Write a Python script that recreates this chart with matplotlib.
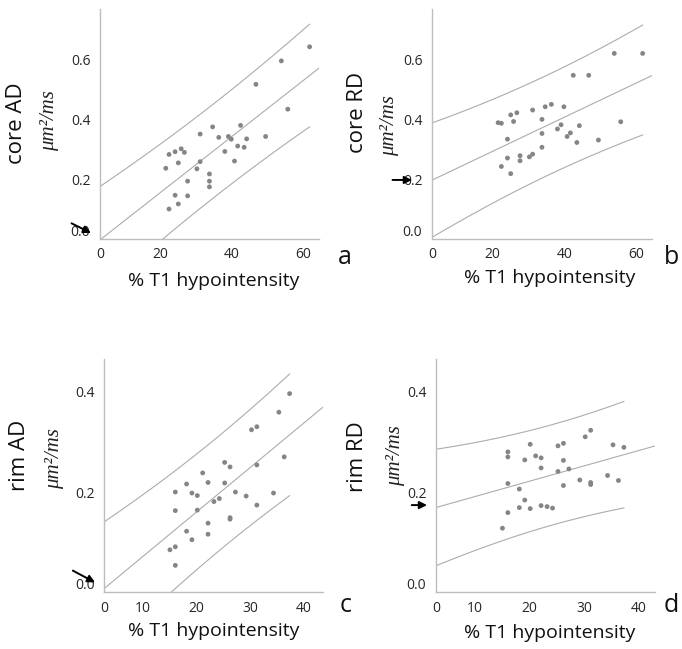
import numpy as np
import matplotlib
matplotlib.use('Agg')
import matplotlib.pyplot as plt
from matplotlib.transforms import ScaledTranslation

plt.rcParams['font.family'] = ['Open Sans', 'DejaVu Sans']

###############################################################################
## Data
###############################################################################
# core lesions: % T1 hypointensity, shared by panels a and b
core_x = [21.6, 22.5, 22.5, 24.2, 24.2, 25.1, 25.1, 25.9, 26.8, 27.7, 27.7,
          30.3, 31.2, 31.2, 33.8, 33.8, 33.8, 34.7, 36.4, 38.1, 39.1, 39.9,
          40.8, 41.7, 42.5, 43.5, 44.2, 46.8, 49.5, 53.9, 55.7, 61.8]
core_ad = [0.236, 0.282, 0.100, 0.291, 0.146, 0.254, 0.117, 0.301, 0.289,
           0.193, 0.144, 0.234, 0.350, 0.258, 0.217, 0.193, 0.174, 0.374,
           0.339, 0.292, 0.342, 0.333, 0.260, 0.310, 0.379, 0.306, 0.334,
           0.516, 0.342, 0.594, 0.433, 0.641]
core_rd = [0.388, 0.242, 0.386, 0.333, 0.270, 0.414, 0.218, 0.392, 0.421,
           0.278, 0.261, 0.274, 0.430, 0.283, 0.399, 0.352, 0.306, 0.441,
           0.449, 0.367, 0.381, 0.441, 0.342, 0.354, 0.546, 0.322, 0.378,
           0.546, 0.330, 0.619, 0.391, 0.619]

# rim: % T1 hypointensity, shared by panels c and d
rim_x = [15.0, 16.0, 16.0, 16.0, 16.0, 18.1, 18.1, 19.1, 19.1, 20.1, 20.1,
         21.1, 22.1, 22.1, 22.1, 23.2, 24.2, 25.2, 25.2, 26.2, 26.2, 26.2,
         27.2, 29.2, 30.2, 31.2, 31.2, 31.2, 34.3, 35.3, 36.3, 37.3]
rim_ad = [0.085, 0.200, 0.163, 0.091, 0.054, 0.216, 0.122, 0.198, 0.105,
          0.193, 0.164, 0.238, 0.219, 0.138, 0.116, 0.181, 0.187, 0.259,
          0.218, 0.250, 0.149, 0.146, 0.200, 0.192, 0.324, 0.330, 0.254,
          0.174, 0.198, 0.359, 0.270, 0.396]
rim_rd = [0.128, 0.280, 0.270, 0.217, 0.159, 0.206, 0.169, 0.264, 0.184,
          0.295, 0.167, 0.272, 0.268, 0.248, 0.173, 0.171, 0.168, 0.292,
          0.241, 0.297, 0.263, 0.213, 0.246, 0.224, 0.310, 0.323, 0.219,
          0.215, 0.233, 0.294, 0.223, 0.289]

# y value the arrow in each panel points at (intercept marker)
arrow_y = {'a': 0.02, 'b': 0.197, 'c': 0.02, 'd': 0.174}

T_95 = 2.042  # t(0.975, df=30)

###############################################################################
LINE_C = '#acacac'
DOT_C = '#858585'
SPINE_C = '#bdbdbd'
TXT_C = '#262626'

fig = plt.figure(figsize=(6.82, 6.49), dpi=100)

panels = [
    # key, x, y, ylabel, rect, xlim, xticks, ylim, yticks
    ('a', core_x, core_ad, 'core AD', [0.1466, 0.6317, 0.321, 0.3544],
     (3.2, 64.4), [20, 40, 60], (0, 0.767), [0.0, 0.2, 0.4, 0.6]),
    ('b', core_x, core_rd, 'core RD', [0.6334, 0.6317, 0.3226, 0.3544],
     (3.2, 64.4), [20, 40, 60], (0, 0.767), [0.0, 0.2, 0.4, 0.6]),
    ('c', rim_x, rim_ad, 'rim AD', [0.1532, 0.0871, 0.321, 0.3598],
     (2.8, 43.6), [10, 20, 30, 40], (0, 0.465), [0.0, 0.2, 0.4]),
    ('d', rim_x, rim_rd, 'rim RD', [0.6393, 0.0871, 0.321, 0.3598],
     (2.8, 43.0), [10, 20, 30, 40], (0, 0.465), [0.0, 0.2, 0.4]),
]

# text positions (figure fraction)
ylab_pos = {'a': (0.0249, 0.8105), 'b': (0.5235, 0.8274),
            'c': (0.0293, 0.2989), 'd': (0.5235, 0.2958)}
unit_pos = {'a': (0.0733, 0.815), 'b': (0.5718, 0.8059),
            'c': (0.0806, 0.2928), 'd': (0.5806, 0.2974)}
xlab_pos = {'a': (0.313, 0.567), 'b': (0.8065, 0.5716),
            'c': (0.3138, 0.0277), 'd': (0.8065, 0.0254)}
letter_pos = {'a': (0.5059, 0.604), 'b': (0.9839, 0.6025),
              'c': (0.5073, 0.0663), 'd': (0.9839, 0.0663)}
arrow_geom = {'a': (-0.041, (-14, 7)), 'b': (-0.091, (-14, 0)),
              'c': (-0.043, (-16, 8.5)), 'd': (-0.041, (-11, 0))}

for key, x, y, ylab, rect, xlim, xt, ylim, yt in panels:
    ax = fig.add_axes(rect)
    x = np.asarray(x)
    y = np.asarray(y)

    # OLS fit with 95% individual prediction interval
    n = len(x)
    b1, b0 = np.polyfit(x, y, 1)
    s = np.sqrt(np.sum((y - (b0 + b1 * x)) ** 2) / (n - 2))
    xm = x.mean()
    sxx = np.sum((x - xm) ** 2)
    xf = np.linspace(xlim[0], xlim[1], 200)
    xb = np.linspace(xlim[0], x.max(), 200)
    half = T_95 * s * np.sqrt(1 + 1 / n + (xb - xm) ** 2 / sxx)

    ax.plot(xf, b0 + b1 * xf, color=LINE_C, lw=0.8)
    ax.plot(xb, b0 + b1 * xb + half, color=LINE_C, lw=0.8)
    ax.plot(xb, b0 + b1 * xb - half, color=LINE_C, lw=0.8)
    ax.scatter(x, y, s=12, color=DOT_C, edgecolors='none', zorder=3)

    ax.set_xlim(*xlim)
    ax.set_ylim(*ylim)
    # the left end of the axis is labelled 0 in the original
    ax.set_xticks([xlim[0]] + xt)
    ax.set_xticklabels(['0'] + [str(v) for v in xt])
    ax.set_yticks(yt)
    ax.set_yticklabels(['%.1f' % v for v in yt])
    ax.tick_params(length=0, labelsize=10, labelcolor=TXT_C)
    ax.tick_params(axis='x', pad=6)
    ax.tick_params(axis='y', pad=7)
    for sp in ['top', 'right']:
        ax.spines[sp].set_visible(False)
    for sp in ['left', 'bottom']:
        ax.spines[sp].set_color(SPINE_C)
        ax.spines[sp].set_linewidth(1.0)

    # raise the 0.0 label a little, as in the original
    lab0 = ax.get_yticklabels()[0]
    lab0.set_transform(lab0.get_transform() +
                       ScaledTranslation(0, 0.09, fig.dpi_scale_trans))

    fig.text(*ylab_pos[key], ylab, rotation=90, fontsize=16, color='#111111',
             ha='center', va='center')
    fig.text(*unit_pos[key], 'μm²/ms', rotation=90, fontsize=15,
             family='Liberation Serif', style='italic', color='#222222',
             ha='center', va='center')
    fig.text(*xlab_pos[key], '% T1 hypointensity', fontsize=14,
             color='#111111', ha='center', va='center')
    fig.text(*letter_pos[key], key, fontsize=18, color='#111111',
             ha='center', va='center')

    ax_x, off = arrow_geom[key]
    ax.annotate('', xy=(ax_x, arrow_y[key]), xycoords=('axes fraction', 'data'),
                xytext=off, textcoords='offset points', annotation_clip=False,
                arrowprops=dict(arrowstyle='-|>', color='black', lw=1.4,
                                mutation_scale=11, shrinkA=0, shrinkB=0))

fig.savefig('out.png', dpi=100)
